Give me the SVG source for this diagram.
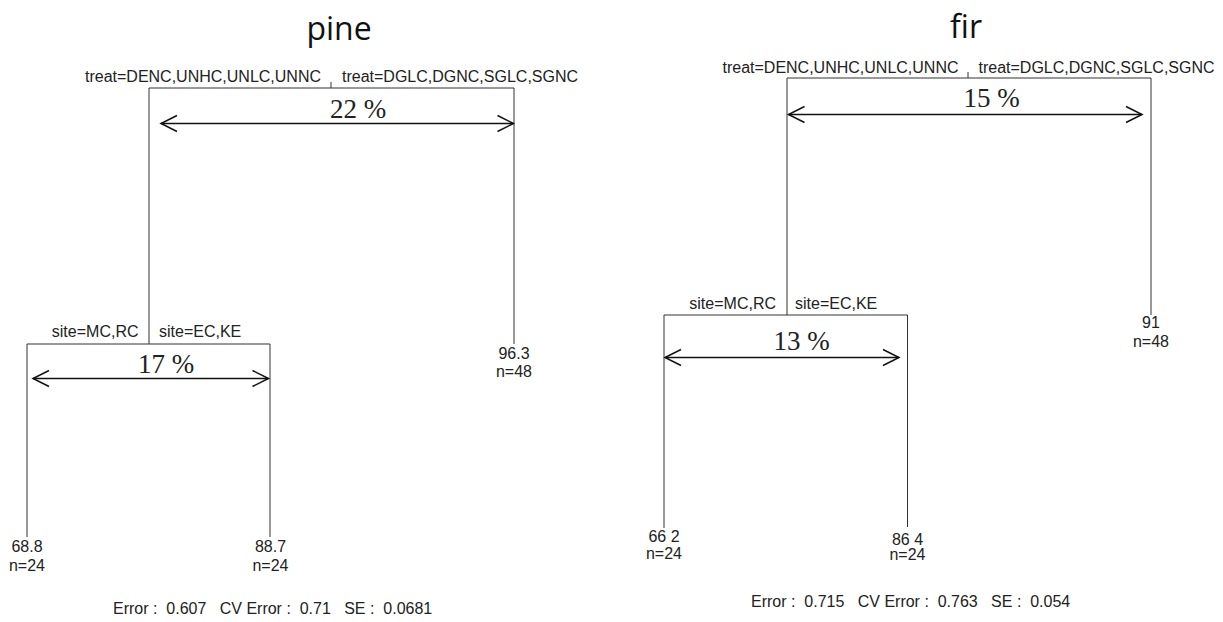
<svg xmlns="http://www.w3.org/2000/svg" width="1223" height="622" viewBox="0 0 1223 622">
<style>
.bg{fill:#fff}
.edge{stroke:#333;stroke-width:1;fill:none}
.arr{stroke:#111;stroke-width:1.5;fill:none;marker-start:url(#ah);marker-end:url(#ah)}
.lab{font-family:"Liberation Sans",Arial,sans-serif;font-size:16px;fill:#222}
.pct{font-family:"Liberation Serif","Times New Roman",serif;font-size:27px;fill:#222;text-anchor:middle}
.leaf{font-family:"Liberation Sans",Arial,sans-serif;font-size:16px;fill:#222;text-anchor:middle}
.title{font-family:"Open Sans","Noto Sans",sans-serif;font-size:32px;fill:#111;text-anchor:middle}
.err{font-family:"Liberation Sans",Arial,sans-serif;font-size:16px;fill:#222;white-space:pre}
</style>
<defs>
<marker id="ah" viewBox="0 -10 20 20" refX="17" refY="0" markerWidth="20" markerHeight="20" markerUnits="userSpaceOnUse" orient="auto-start-reverse">
<path d="M1,-8 L17,0 L1,8" fill="none" stroke="#111" stroke-width="1.5"/>
</marker>
</defs>
<rect class="bg" x="0" y="0" width="1223" height="622"/>

<text class="title" x="339" y="40">pine</text>
<text class="title" x="966" y="38">fir</text>

<g id="connectors">
  <!-- pine -->
  <path class="edge" d="M331,82 V88 M149,344 V88 H514 V344"/>
  <path class="edge" d="M27,537 V344 H270 V537"/>
  <!-- fir -->
  <path class="edge" d="M968,72 V78 M787,315 V78 H1151 V315"/>
  <path class="edge" d="M664,528 V315 H907.5 V527"/>
  <!-- improvement arrows -->
  <line class="arr" x1="161" y1="123.5" x2="513.5" y2="123.5"/>
  <line class="arr" x1="33" y1="378.5" x2="268.5" y2="378.5"/>
  <line class="arr" x1="788.5" y1="114.5" x2="1142" y2="114.5"/>
  <line class="arr" x1="665" y1="357.5" x2="899" y2="357.5"/>
</g>

<g id="pine-root">
  <text class="lab" x="321" y="81.5" text-anchor="end">treat=DENC,UNHC,UNLC,UNNC</text>
  <text class="lab" x="342" y="81.5">treat=DGLC,DGNC,SGLC,SGNC</text>
  <text class="pct" x="358" y="118">22 %</text>
</g>
<g id="pine-site">
  <text class="lab" x="138.5" y="336.5" text-anchor="end">site=MC,RC</text>
  <text class="lab" x="159" y="336.5">site=EC,KE</text>
  <text class="pct" x="166" y="373">17 %</text>
</g>
<g id="pine-leaf-1">
  <text class="leaf" x="27" y="552">68.8</text>
  <text class="leaf" x="27" y="571">n=24</text>
</g>
<g id="pine-leaf-2">
  <text class="leaf" x="270.5" y="552">88.7</text>
  <text class="leaf" x="270.5" y="571">n=24</text>
</g>
<g id="pine-leaf-3">
  <text class="leaf" x="514" y="359">96.3</text>
  <text class="leaf" x="514" y="377">n=48</text>
</g>
<text class="err" x="113" y="614">Error :  0.607   CV Error :  0.71   SE :  0.0681</text>

<g id="fir-root">
  <text class="lab" x="958.5" y="72.5" text-anchor="end">treat=DENC,UNHC,UNLC,UNNC</text>
  <text class="lab" x="978.5" y="72.5">treat=DGLC,DGNC,SGLC,SGNC</text>
  <text class="pct" x="991.5" y="107">15 %</text>
</g>
<g id="fir-site">
  <text class="lab" x="776" y="309" text-anchor="end">site=MC,RC</text>
  <text class="lab" x="795" y="309">site=EC,KE</text>
  <text class="pct" x="801.5" y="350">13 %</text>
</g>
<g id="fir-leaf-1">
  <text class="leaf" x="664" y="542">66 2</text>
  <text class="leaf" x="664" y="559">n=24</text>
</g>
<g id="fir-leaf-2">
  <text class="leaf" x="907.5" y="545">86 4</text>
  <text class="leaf" x="907.5" y="560">n=24</text>
</g>
<g id="fir-leaf-3">
  <text class="leaf" x="1151" y="328">91</text>
  <text class="leaf" x="1151" y="347">n=48</text>
</g>
<text class="err" x="751" y="607">Error :  0.715   CV Error :  0.763   SE :  0.054</text>
</svg>
